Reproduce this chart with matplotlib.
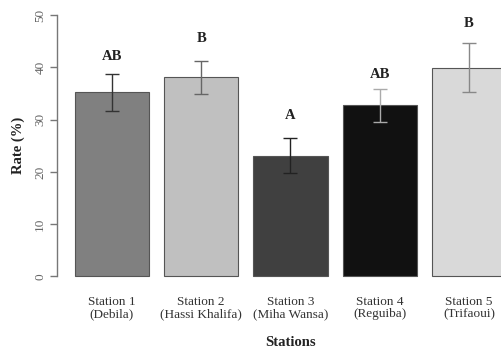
import matplotlib
matplotlib.use('Agg')
import matplotlib.pyplot as plt

plt.rcParams['font.family'] = 'Liberation Serif'

stations = ['Station 1\n(Debila)', 'Station 2\n(Hassi Khalifa)', 'Station 3\n(Miha Wansa)',
            'Station 4\n(Reguiba)', 'Station 5\n(Trifaoui)']
rates = [35.2, 38.1, 23.1, 32.7, 39.9]
errors = [3.6, 3.2, 3.4, 3.2, 4.7]
groups = ['AB', 'B', 'A', 'AB', 'B']
group_y = [42.0, 45.6, 30.7, 38.6, 48.4]

bar_colors = ['#808080', '#c0c0c0', '#404040', '#111111', '#d9d9d9']
err_colors = ['#333333', '#666666', '#222222', '#aaaaaa', '#888888']

# barplot layout: width 1, space 0.2
x = [0.7 + 1.2 * i for i in range(len(rates))]

fig = plt.figure(figsize=(5.02, 3.5), dpi=100)
ax = fig.add_axes([0.1143, 0.1803, 0.9285, 0.8066])

ax.bar(x, rates, width=1.0, color=bar_colors, edgecolor='#555555', linewidth=0.8)
for xi, r, e, c in zip(x, rates, errors, err_colors):
    ax.errorbar(xi, r, yerr=e, fmt='none', ecolor=c, elinewidth=1.0,
                capsize=5, capthick=1.0)
for xi, g, gy in zip(x, groups, group_y):
    ax.text(xi, gy, g, ha='center', va='center', fontsize=10.5,
            fontweight='bold', color='#222222')

ax.set_xlim(-0.032, 6.232)
ax.set_ylim(-2, 52)

for s in ['top', 'right', 'bottom']:
    ax.spines[s].set_visible(False)
ax.spines['left'].set_bounds(0, 50)
ax.spines['left'].set_color('#777777')
ax.spines['left'].set_linewidth(1.0)

ax.set_yticks(range(0, 51, 10))
ax.tick_params(axis='y', length=5, width=1.0, color='#777777', pad=3,
               labelsize=9.5, labelcolor='#666666')
for lab in ax.get_yticklabels():
    lab.set_rotation(90)
    lab.set_va('center')

ax.set_xticks(x)
ax.set_xticklabels(stations, fontsize=9.5, color='#333333', linespacing=1.0)
ax.tick_params(axis='x', length=0, pad=6.5)

fig.text(18 / 502, 1 - 145.75 / 350, 'Rate (%)', rotation=90, ha='center',
         va='center', fontsize=10.5, fontweight='bold', color='#222222')
fig.text(290 / 502, 1 - 342 / 350, 'Stations', ha='center', va='center',
         fontsize=10.5, fontweight='bold', color='#222222')

fig.savefig('out.png', dpi=100)
